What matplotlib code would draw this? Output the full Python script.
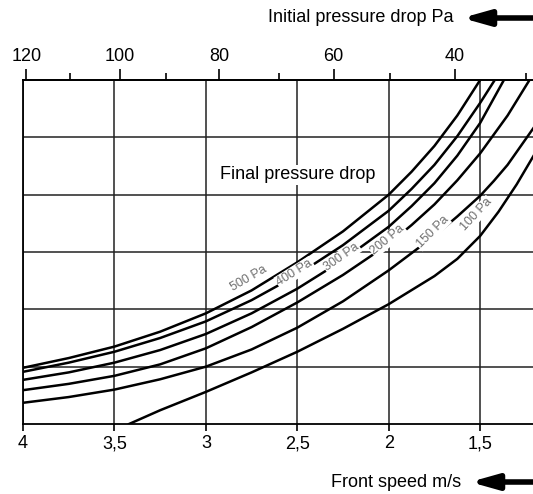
import matplotlib.pyplot as plt

plt.rcParams['font.family'] = ['Liberation Sans', 'DejaVu Sans']

# front speed m/s (bottom axis) and relative value (unlabelled y axis)
speed_500 = [4.0, 3.75, 3.5, 3.25, 3.0, 2.75, 2.5, 2.25, 2.0, 1.875, 1.75, 1.625, 1.5]
curve_500 = [0.98, 1.15, 1.35, 1.61, 1.93, 2.33, 2.82, 3.36, 4.0, 4.4, 4.85, 5.38, 6.0]

speed_400 = [4.0, 3.75, 3.5, 3.25, 3.0, 2.75, 2.5, 2.25, 2.0, 1.875, 1.75, 1.625, 1.5, 1.42]
curve_400 = [0.91, 1.07, 1.26, 1.50, 1.79, 2.16, 2.60, 3.12, 3.72, 4.1, 4.52, 5.02, 5.6, 6.0]

speed_300 = [4.0, 3.75, 3.5, 3.25, 3.0, 2.75, 2.5, 2.25, 2.0, 1.875, 1.75, 1.625, 1.5, 1.37]
curve_300 = [0.77, 0.90, 1.07, 1.29, 1.57, 1.93, 2.36, 2.86, 3.44, 3.8, 4.2, 4.68, 5.25, 6.0]

speed_200 = [4.0, 3.75, 3.5, 3.25, 3.0, 2.75, 2.5, 2.25, 2.0, 1.875, 1.75, 1.625, 1.5, 1.35, 1.23]
curve_200 = [0.59, 0.70, 0.84, 1.04, 1.32, 1.69, 2.12, 2.60, 3.14, 3.47, 3.83, 4.25, 4.72, 5.38, 6.0]

speed_150 = [4.0, 3.75, 3.5, 3.25, 3.0, 2.75, 2.5, 2.25, 2.0, 1.75, 1.625, 1.5, 1.425, 1.35, 1.2]
curve_150 = [0.37, 0.47, 0.60, 0.78, 1.00, 1.30, 1.68, 2.14, 2.68, 3.28, 3.62, 3.98, 4.24, 4.52, 5.2]

speed_100 = [3.42, 3.25, 3.0, 2.75, 2.5, 2.25, 2.0, 1.75, 1.625, 1.5, 1.4, 1.3, 1.2]
curve_100 = [0.0, 0.24, 0.56, 0.90, 1.26, 1.66, 2.09, 2.58, 2.88, 3.28, 3.70, 4.18, 4.72]

curve_labels = ['500 Pa', '400 Pa', '300 Pa', '200 Pa', '150 Pa', '100 Pa']
label_speed = [2.765, 2.514, 2.257, 2.005, 1.76, 1.519]
label_value = [2.53, 2.64, 2.91, 3.21, 3.35, 3.65]
label_angle = [30, 32, 35, 40, 45, 47]

bottom_ticks = [4.0, 3.5, 3.0, 2.5, 2.0, 1.5]
bottom_labels = ['4', '3,5', '3', '2,5', '2', '1,5']

# initial pressure drop Pa on the top scale, read at speed positions
top_pa = ['120', '100', '80', '60', '40']
top_speed = [3.981, 3.470, 2.929, 2.301, 1.639]
top_minor_speed = [3.743, 3.219, 2.601, 1.995, 1.251]

fig = plt.figure(figsize=(5.33, 4.94), dpi=100)
ax = fig.add_axes([23 / 533, 70 / 494, 512 / 533, 344 / 494])

curves = [(speed_500, curve_500), (speed_400, curve_400), (speed_300, curve_300),
          (speed_200, curve_200), (speed_150, curve_150), (speed_100, curve_100)]
for sp, val in curves:
    ax.plot(sp, val, color='black', lw=1.8, solid_joinstyle='round', zorder=3)

for txt, sp, val, ang in zip(curve_labels, label_speed, label_value, label_angle):
    ax.text(sp, val, txt, rotation=ang, ha='center', va='center', fontsize=9,
            color='#6e6e6e', zorder=4,
            bbox=dict(facecolor='white', edgecolor='none', pad=0.6))

ax.text(2.92, 4.35, 'Final pressure drop', fontsize=13, ha='left', va='center',
        zorder=4, bbox=dict(facecolor='white', edgecolor='none', pad=1))

ax.set_xlim(4.0, 1.2)
ax.set_ylim(0, 6)
ax.set_xticks(bottom_ticks, labels=bottom_labels)
ax.set_yticks([1, 2, 3, 4, 5])
ax.tick_params(axis='y', length=0, labelleft=False)
ax.tick_params(axis='x', direction='out', length=5, width=1.2, pad=3, labelsize=13)
ax.grid(True, color='#222222', lw=1.1)
ax.spines['right'].set_visible(False)
for s in ['left', 'bottom', 'top']:
    ax.spines[s].set_linewidth(1.3)

top = ax.secondary_xaxis('top')
top.set_xticks(top_speed, labels=top_pa)
top.set_xticks(top_minor_speed, minor=True)
top.tick_params(which='major', direction='out', length=8, width=1.2, pad=3, labelsize=13)
top.tick_params(which='minor', direction='out', length=5, width=1.2)
top.spines['top'].set_linewidth(1.3)

fig.text(454 / 533, 1 - 18 / 494, 'Initial pressure drop Pa', fontsize=13,
         ha='right', va='center')
ax.annotate('', xy=(462 / 533, 1 - 18 / 494), xytext=(1.0, 1 - 18 / 494),
            xycoords='figure fraction', textcoords='figure fraction',
            arrowprops=dict(arrowstyle='-|>,head_length=1.6,head_width=0.45',
                            lw=4, color='black', shrinkA=0, shrinkB=0))

fig.text(461 / 533, 1 - 482 / 494, 'Front speed m/s', fontsize=13,
         ha='right', va='center')
ax.annotate('', xy=(470 / 533, 1 - 482 / 494), xytext=(1.0, 1 - 482 / 494),
            xycoords='figure fraction', textcoords='figure fraction',
            arrowprops=dict(arrowstyle='-|>,head_length=1.6,head_width=0.45',
                            lw=4, color='black', shrinkA=0, shrinkB=0))

fig.savefig('out.png', dpi=100)
